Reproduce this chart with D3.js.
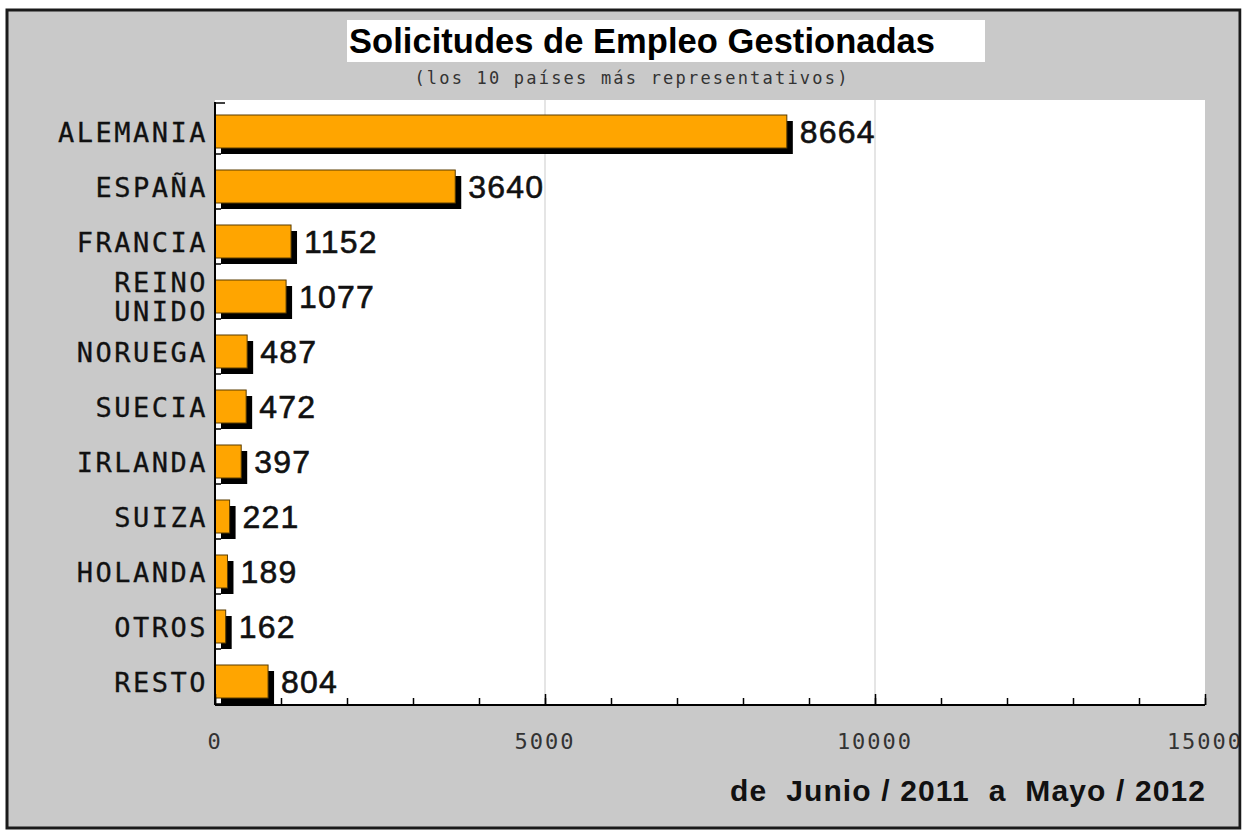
<!DOCTYPE html>
<html>
<head>
<meta charset="utf-8">
<script src="https://cdn.jsdelivr.net/npm/d3@7"></script>
<style>
  body { margin: 0; background: #fff; }
</style>
</head>
<body>
<div id="chart"></div>
<script>
// Solicitudes de empleo por pais

const countries = ["ALEMANIA", "ESPAÑA", "FRANCIA", "REINO UNIDO", "NORUEGA", "SUECIA",
                   "IRLANDA", "SUIZA", "HOLANDA", "OTROS", "RESTO"];
const requests = [8664, 3640, 1152, 1077, 487, 472, 397, 221, 189, 162, 804];
const xTicks = [0, 5000, 10000, 15000];

const width = 1242, height = 831,
      margin = ({top: 100, right: 37, bottom: 126, left: 215});

const data = countries.map((c, i) => ({country: c, value: requests[i]}));

let svg = d3.select("#chart")
    .append("svg")
    .attr("width", width)
    .attr("height", height);

// fondo gris
svg.append("rect")
    .attr("x", 7).attr("y", 10)
    .attr("width", 1233).attr("height", 818)
    .attr("fill", "#c9c9c9");

let x = d3.scaleLinear()
    .domain([0, 15000])
    .range([margin.left, width - margin.right]);

let y = d3.scaleBand()
    .domain(countries)
    .range([margin.top, height - margin.bottom]);

// area blanca
svg.append("rect")
    .attr("x", x(0)).attr("y", margin.top)
    .attr("width", x(15000) - x(0)).attr("height", y.range()[1] - margin.top)
    .attr("fill", "#fff");

// lineas de rejilla
svg.append("g")
    .selectAll("line")
    .data([5000, 10000])
    .join("line")
    .attr("x1", d => x(d)).attr("x2", d => x(d))
    .attr("y1", margin.top).attr("y2", y.range()[1])
    .attr("stroke", "#d4d4d4")
    .attr("stroke-width", 1.2);

let bar = svg.selectAll(".bar")
    .data(data)
    .join("g")
    .attr("class", "bar");

const off = 6, padTop = 15, padBot = 7;

// sombra
bar.append("rect")
    .attr("fill", "#000")
    .attr("x", x(0) + off)
    .attr("y", d => y(d.country) + padTop + off)
    .attr("width", d => x(d.value) - x(0))
    .attr("height", y.bandwidth() - padTop - padBot);

bar.append("rect")
    .attr("fill", "#ffa500")
    .attr("stroke", "#5a3c00")
    .attr("stroke-width", 1)
    .attr("x", x(0))
    .attr("y", d => y(d.country) + padTop)
    .attr("width", d => x(d.value) - x(0))
    .attr("height", y.bandwidth() - padTop - padBot);

// valores
bar.append("text")
    .attr("x", d => x(d.value) + off + 7)
    .attr("y", d => y(d.country) + padTop + (y.bandwidth() - padTop - padBot) / 2 + 11)
    .attr("font-family", "Liberation Sans, Arial, sans-serif")
    .attr("font-size", 32)
    .attr("letter-spacing", 1.2)
    .attr("fill", "#111")
    .attr("stroke", "#111")
    .attr("stroke-width", 0.6)
    .text(d => d.value);

// etiquetas de paises
let labels = svg.append("g")
    .selectAll("text")
    .data(data)
    .join("text")
    .attr("text-anchor", "end")
    .attr("font-family", "DejaVu Sans Mono, monospace")
    .attr("font-size", 27)
    .attr("letter-spacing", 2.5)
    .attr("fill", "#111")
    .attr("stroke", "#111")
    .attr("stroke-width", 0.3);

labels.each(function(d) {
    const words = d.country.split(" ");
    const mid = y(d.country) + padTop + (y.bandwidth() - padTop - padBot) / 2;
    const t = d3.select(this);
    if (words.length === 1) {
        t.append("tspan").attr("x", x(0) - 7).attr("y", mid + 10).text(words[0]);
    } else {
        t.append("tspan").attr("x", x(0) - 7).attr("y", mid - 5).text(words[0]);
        t.append("tspan").attr("x", x(0) - 7).attr("y", mid + 24).text(words[1]);
    }
});

// eje x
const yBottom = y.range()[1];
svg.append("g")
    .attr("transform", `translate(0,${yBottom})`)
    .call(d3.axisTop(x).ticks(15).tickSize(7).tickFormat(""))
    .call(g => g.select(".domain").remove())
    .call(g => g.selectAll("line").attr("stroke", "#000").attr("stroke-width", 1.5));

svg.append("g")
    .attr("transform", `translate(0,${yBottom})`)
    .call(d3.axisTop(x).tickValues(xTicks).tickSize(11).tickFormat(""))
    .call(g => g.select(".domain").attr("d", `M${x(0)},0H${x(15000)}`).attr("stroke", "#000").attr("stroke-width", 2))
    .call(g => g.selectAll("line").attr("stroke", "#000").attr("stroke-width", 1.5));

svg.append("g")
    .selectAll("text")
    .data(xTicks)
    .join("text")
    .attr("x", d => x(d))
    .attr("y", yBottom + 44)
    .attr("text-anchor", "middle")
    .attr("font-family", "DejaVu Sans Mono, monospace")
    .attr("font-size", 22)
    .attr("letter-spacing", 2)
    .attr("fill", "#333")
    .text(d => d);

// eje y
svg.append("g")
    .attr("transform", `translate(${x(0)},0)`)
    .call(d3.axisRight(y).tickSize(0).tickFormat(""))
    .call(g => g.select(".domain").attr("d", `M0,${margin.top + 2}V${yBottom}`).attr("stroke", "#000").attr("stroke-width", 2));

svg.append("g")
    .selectAll("line")
    .data(countries)
    .join("line")
    .attr("x1", x(0)).attr("x2", x(0) + off)
    .attr("y1", d => y(d) + y.bandwidth() - 1)
    .attr("y2", d => y(d) + y.bandwidth() - 1)
    .attr("stroke", "#000").attr("stroke-width", 1.5);

svg.append("line")
    .attr("x1", x(0)).attr("x2", x(0) + 10)
    .attr("y1", margin.top + 3).attr("y2", margin.top + 3)
    .attr("stroke", "#000").attr("stroke-width", 1.5);

// titulo
svg.append("rect")
    .attr("x", 347).attr("y", 20)
    .attr("width", 638).attr("height", 42)
    .attr("fill", "#fff");

svg.append("text")
    .attr("x", 349).attr("y", 53)
    .attr("font-family", "Liberation Sans, Arial, sans-serif")
    .attr("font-weight", "bold")
    .attr("font-size", 34.5)
    .attr("textLength", 586)
    .attr("lengthAdjust", "spacing")
    .attr("fill", "#000")
    .text("Solicitudes de Empleo Gestionadas");

svg.append("text")
    .attr("x", 632).attr("y", 84)
    .attr("text-anchor", "middle")
    .attr("font-family", "DejaVu Sans Mono, monospace")
    .attr("font-size", 17)
    .attr("letter-spacing", 2.2)
    .attr("fill", "#333")
    .text("(los 10 países más representativos)");

svg.append("text")
    .attr("x", 730).attr("y", 801)
    .attr("font-family", "Liberation Sans, Arial, sans-serif")
    .attr("font-weight", "bold")
    .attr("font-size", 30)
    .attr("textLength", 475)
    .attr("lengthAdjust", "spacing")
    .attr("fill", "#111")
    .attr("xml:space", "preserve")
    .text("de  Junio / 2011  a  Mayo / 2012");

// borde
svg.append("rect")
    .attr("x", 7).attr("y", 10)
    .attr("width", 1233).attr("height", 818)
    .attr("fill", "none")
    .attr("stroke", "#1a1a1a")
    .attr("stroke-width", 3);

// tapar lo que sale del borde
svg.append("rect")
    .attr("x", 1241.5).attr("y", 0)
    .attr("width", 10).attr("height", height)
    .attr("fill", "#fff");
</script>
</body>
</html>
